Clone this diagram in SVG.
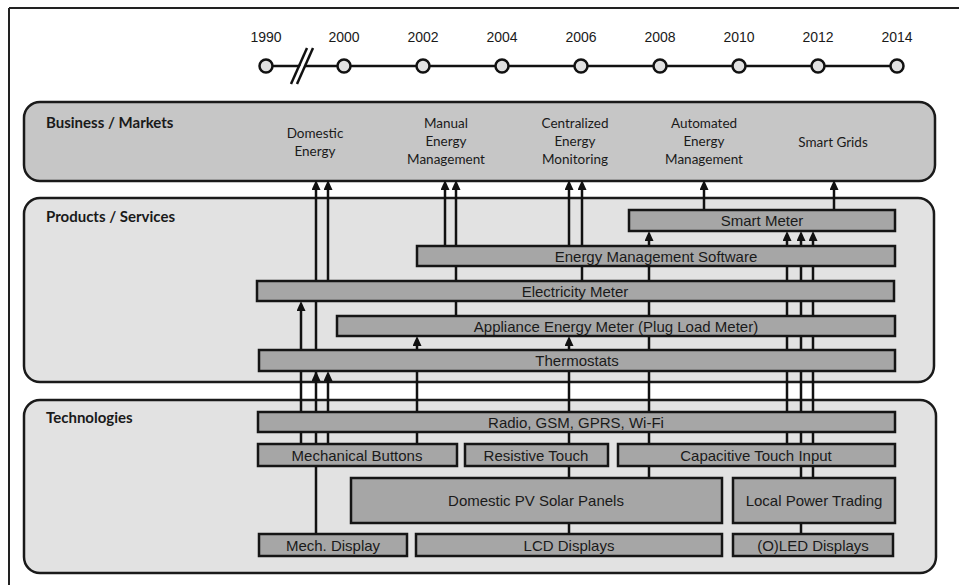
<svg xmlns="http://www.w3.org/2000/svg" width="959" height="585" viewBox="0 0 959 585">
<style>
.frame{fill:none;stroke:#222;stroke-width:2}
.tl{fill:none;stroke:#111;stroke-width:2.5}
.dot{fill:#e0e0e0;stroke:#111;stroke-width:2.5}
.year{font-family:"Liberation Sans",Arial,sans-serif;font-size:14px;fill:#1a1a1a;text-anchor:middle}
.biz{fill:#c6c6c6;stroke:#1a1a1a;stroke-width:2.5}
.sec{fill:#e2e2e2;stroke:#1a1a1a;stroke-width:2.5}
.bar{fill:#a6a6a6;stroke:#151515;stroke-width:2.5}
.title{font-family:Lato,"Open Sans",sans-serif;font-weight:bold;font-size:15px;fill:#1a1a1a}
.mk{font-family:Lato,"Open Sans",sans-serif;font-size:13.5px;fill:#1a1a1a;text-anchor:middle}
.lbl{font-family:"Liberation Sans",Arial,sans-serif;font-size:15px;fill:#1a1a1a;text-anchor:middle}
.cn{fill:none;stroke:#111;stroke-width:2.5}
.ca{fill:none;stroke:#111;stroke-width:2.5;marker-end:url(#ah)}
</style>
<defs>
<marker id="ah" markerUnits="userSpaceOnUse" markerWidth="10" markerHeight="9" viewBox="0 0 10 9" refX="6" refY="4.5" orient="auto">
<path d="M0,0 L10,4.5 L0,9 z" fill="#111"/>
</marker>
</defs>

<g id="frame">
<line class="frame" x1="9" y1="8" x2="959" y2="8"/>
<line class="frame" x1="9" y1="8" x2="9" y2="585"/>
</g>

<g id="timeline">
<line class="tl" x1="266" y1="66" x2="897" y2="66"/>
<polygon points="292,84 297,84 314,47 309,47" fill="#fff"/>
<line class="tl" x1="291" y1="84" x2="307" y2="48" stroke-width="2"/>
<line class="tl" x1="297" y1="84" x2="313" y2="48" stroke-width="2"/>
<circle class="dot" cx="266" cy="66" r="6.5"/>
<circle class="dot" cx="344" cy="66" r="6.5"/>
<circle class="dot" cx="423" cy="66" r="6.5"/>
<circle class="dot" cx="502" cy="66" r="6.5"/>
<circle class="dot" cx="581" cy="66" r="6.5"/>
<circle class="dot" cx="660" cy="66" r="6.5"/>
<circle class="dot" cx="739" cy="66" r="6.5"/>
<circle class="dot" cx="818" cy="66" r="6.5"/>
<circle class="dot" cx="897" cy="66" r="6.5"/>
<text class="year" x="266" y="42">1990</text>
<text class="year" x="344" y="42">2000</text>
<text class="year" x="423" y="42">2002</text>
<text class="year" x="502" y="42">2004</text>
<text class="year" x="581" y="42">2006</text>
<text class="year" x="660" y="42">2008</text>
<text class="year" x="739" y="42">2010</text>
<text class="year" x="818" y="42">2012</text>
<text class="year" x="897" y="42">2014</text>
</g>

<g id="business">
<rect class="biz" x="24" y="102" width="911" height="79" rx="16"/>
<text class="title" x="46" y="128">Business / Markets</text>
<text class="mk" x="315" y="138">Domestic</text>
<text class="mk" x="315" y="156">Energy</text>
<text class="mk" x="446" y="128">Manual</text>
<text class="mk" x="446" y="146">Energy</text>
<text class="mk" x="446" y="164">Management</text>
<text class="mk" x="575" y="128">Centralized</text>
<text class="mk" x="575" y="146">Energy</text>
<text class="mk" x="575" y="164">Monitoring</text>
<text class="mk" x="704" y="128">Automated</text>
<text class="mk" x="704" y="146">Energy</text>
<text class="mk" x="704" y="164">Management</text>
<text class="mk" x="833" y="147">Smart Grids</text>
</g>

<g id="products">
<rect class="sec" x="24" y="198" width="910" height="184" rx="16"/>
<text class="title" x="46" y="222">Products / Services</text>
</g>

<g id="technologies">
<rect class="sec" x="24" y="400" width="912" height="173" rx="16"/>
<text class="title" x="46" y="423">Technologies</text>
</g>

<g id="connectors">
<path class="ca" d="M301,444 V305"/>
<path class="ca" d="M316,534 V375"/>
<path class="ca" d="M316,375 V184"/>
<path class="ca" d="M328,444 V375"/>
<path class="ca" d="M328,281 V184"/>
<path class="ca" d="M417,444 V340"/>
<path class="ca" d="M445,245 V184"/>
<path class="ca" d="M456,315 V184"/>
<path class="ca" d="M569,534 V340"/>
<path class="ca" d="M569,245 V184"/>
<path class="ca" d="M582,281 V184"/>
<path class="ca" d="M649,478 V235"/>
<path class="ca" d="M704,210 V184"/>
<path class="ca" d="M787,444 V235"/>
<path class="ca" d="M801,534 V235"/>
<path class="ca" d="M813,478 V235"/>
<path class="ca" d="M834,210 V184"/>
</g>

<g id="smart-meter"><rect class="bar" x="629" y="210" width="266" height="21"/><text class="lbl" x="762" y="226">Smart Meter</text></g>
<g id="ems"><rect class="bar" x="417" y="246" width="478" height="20"/><text class="lbl" x="656" y="261.5">Energy Management Software</text></g>
<g id="electricity-meter"><rect class="bar" x="257" y="281" width="637" height="20"/><text class="lbl" x="575" y="296.5">Electricity Meter</text></g>
<g id="appliance-meter"><rect class="bar" x="337" y="316" width="558" height="20"/><text class="lbl" x="616" y="331.5">Appliance Energy Meter (Plug Load Meter)</text></g>
<g id="thermostats"><rect class="bar" x="259" y="350" width="636" height="21"/><text class="lbl" x="577" y="366">Thermostats</text></g>

<g id="radio"><rect class="bar" x="258" y="412" width="637" height="20"/><text class="lbl" x="576" y="427.5">Radio, GSM, GPRS, Wi-Fi</text></g>
<g id="mech-buttons"><rect class="bar" x="258" y="444" width="199" height="22"/><text class="lbl" x="357" y="460.5">Mechanical Buttons</text></g>
<g id="resistive-touch"><rect class="bar" x="465" y="444" width="143" height="22"/><text class="lbl" x="536" y="460.5">Resistive Touch</text></g>
<g id="capacitive-touch"><rect class="bar" x="618" y="444" width="277" height="22"/><text class="lbl" x="756" y="460.5">Capacitive Touch Input</text></g>
<g id="pv-panels"><rect class="bar" x="351" y="478" width="371" height="45"/><text class="lbl" x="536" y="505.5">Domestic PV Solar Panels</text></g>
<g id="local-power"><rect class="bar" x="733" y="478" width="162" height="45"/><text class="lbl" x="814" y="505.5">Local Power Trading</text></g>
<g id="mech-display"><rect class="bar" x="259" y="534" width="148" height="22"/><text class="lbl" x="333" y="550.5">Mech. Display</text></g>
<g id="lcd"><rect class="bar" x="416" y="534" width="306" height="22"/><text class="lbl" x="569" y="550.5">LCD Displays</text></g>
<g id="oled"><rect class="bar" x="733" y="534" width="160" height="22"/><text class="lbl" x="813" y="550.5">(O)LED Displays</text></g>
</svg>
